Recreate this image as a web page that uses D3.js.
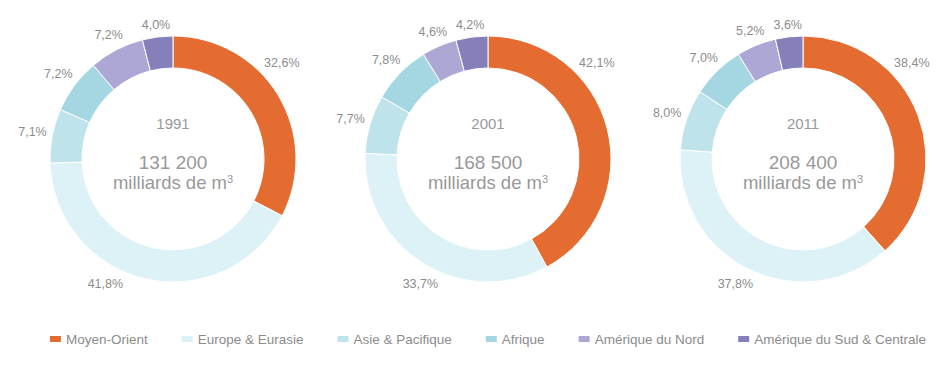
<!DOCTYPE html>
<html><head><meta charset="utf-8">
<script src="https://cdn.jsdelivr.net/npm/d3@7"></script>
<style>body{margin:0;background:#fff}svg{display:block}text{font-family:Arial,"Liberation Sans",sans-serif}</style>
</head><body>
<svg id="c" width="950" height="365"></svg>
<script>
const regions = ["Moyen-Orient","Europe & Eurasie","Asie & Pacifique","Afrique","Amérique du Nord","Amérique du Sud & Centrale"];
const colors = ["#E46C30","#DDF2F6","#BFE3EA","#A5D7E2","#ADA7D6","#8680BA"];
const years = ["1991","2001","2011"];
const totals = ["131 200","168 500","208 400"];
const shares1991 = [32.6,41.8,7.1,7.2,7.2,4.0];
const shares2001 = [42.1,33.7,7.7,7.8,4.6,4.2];
const shares2011 = [38.4,37.8,8.0,7.0,5.2,3.6];
const seriesShares = [shares1991, shares2001, shares2011];

const svg = d3.select("#c");
const grey = "#8c8c8c";
const outerR = 123, innerR = 91, labelGap = 128;
const cx = d3.scalePoint().domain(years).range([173,803]);
const cy = 159;
const color = d3.scaleOrdinal().domain(regions).range(colors);
const pie = d3.pie().sort(null).value(d=>d.v);
const arc = d3.arc().innerRadius(innerR).outerRadius(outerR);
const fmt = v => v.toFixed(1).replace(".", ",") + "%";
// large slices: labels moved to the side (as in the original layout)
const calloutAngle = {0: 48.5*Math.PI/180, 1: 208.5*Math.PI/180};

years.forEach((y,i)=>{
  const g = svg.append("g").attr("transform",`translate(${cx(y)},${cy})`);
  const data = pie(regions.map((r,k)=>({r, v: seriesShares[i][k]})));
  g.selectAll("path").data(data).join("path")
    .attr("d",arc).attr("fill",d=>color(d.data.r))
    .attr("stroke","#fff").attr("stroke-width",1);
  g.selectAll("text.lbl").data(data).join("text").attr("class","lbl")
    .attr("text-anchor","middle").attr("dy","0.35em")
    .attr("font-size",12.5).attr("fill",grey).text(d=>fmt(d.data.v))
    .each(function(d){
      const a = (d.data.v > 30 && calloutAngle[d.index] !== undefined) ? calloutAngle[d.index] : (d.startAngle+d.endAngle)/2;
      const hw = this.getComputedTextLength()/2, hh = 6;
      const r = labelGap + Math.abs(Math.sin(a))*hw + Math.abs(Math.cos(a))*hh;
      d3.select(this).attr("x", r*Math.sin(a)).attr("y", -r*Math.cos(a));
    });
  g.append("text").attr("y",-35).attr("dy","0.35em").attr("text-anchor","middle")
    .attr("font-size",15).attr("fill","#999").text(y);
  g.append("text").attr("y",3).attr("dy","0.35em").attr("text-anchor","middle")
    .attr("font-size",19).attr("fill","#999").text(totals[i]);
  const t = g.append("text").attr("y",24).attr("dy","0.35em").attr("text-anchor","middle")
    .attr("font-size",18.5).attr("fill","#999");
  t.append("tspan").text("milliards de m");
  t.append("tspan").attr("font-size",11).attr("dy","-0.55em").text("3");
});

// legend
const lg = svg.append("g");
let x = 0;
regions.forEach((r,k)=>{
  const it = lg.append("g").attr("transform",`translate(${x},0)`);
  it.append("rect").attr("x",0).attr("y",-3).attr("width",11).attr("height",6).attr("fill",color(r));
  const tx = it.append("text").attr("x",16).attr("dy","0.35em").attr("font-size",13.5).attr("fill",grey).text(r);
  x += 16 + tx.node().getComputedTextLength() + 34;
});
const totalW = x - 34;
lg.attr("transform",`translate(${488 - totalW/2},339)`);
</script>
</body></html>
